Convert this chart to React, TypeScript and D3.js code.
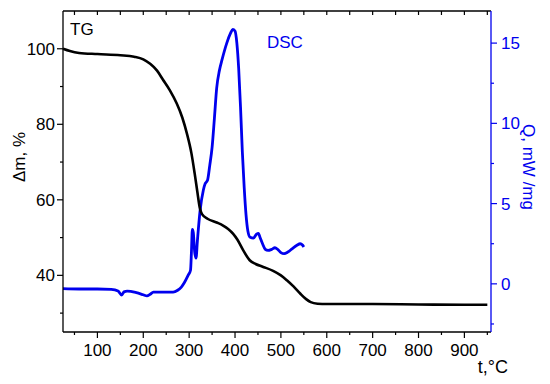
import React from "react";
import * as d3 from "d3";

const tgData: [number, number][] = [
  [25, 100], [40, 99.4], [60, 98.9], [100, 98.6], [150, 98.3], [180, 97.9], [200, 97.2],
  [215, 96.0], [230, 94.2], [243, 91.8], [258, 89], [273, 85.5], [285, 81.8], [295, 77.6],
  [305, 72.3], [312, 67], [318, 62], [323, 58], [328, 56.2], [340, 55], [360, 54], [374, 53.2],
  [385, 52.3], [396, 51], [405, 49.5], [418, 46.6], [432, 44], [445, 43], [460, 42.3],
  [483, 41.2], [500, 40], [513, 38.7], [528, 37], [542, 35.2], [555, 33.7], [565, 32.9],
  [580, 32.5], [600, 32.4], [700, 32.4], [800, 32.3], [900, 32.2], [950, 32.2],
];

const dscData: [number, number][] = [
  [25, -0.3], [60, -0.32], [100, -0.32], [130, -0.35], [145, -0.45], [153, -0.7], [158, -0.5],
  [165, -0.45], [185, -0.55], [200, -0.68], [208, -0.75], [215, -0.65], [222, -0.52],
  [240, -0.52], [265, -0.52], [275, -0.4], [283, -0.2], [290, 0.1], [298, 0.55], [303, 0.85],
  [305, 2.0], [307, 3.4], [309, 3.2], [312, 2.0], [315, 1.6], [318, 2.7], [324, 4.6],
  [331, 5.85], [335, 6.25], [340, 6.45], [345, 7.4], [350, 8.5], [355, 10.3], [360, 12.2],
  [366, 13.3], [372, 14.0], [382, 15.0], [390, 15.6], [395, 15.85], [400, 15.75], [404, 15.0],
  [408, 13.4], [412, 11], [416, 8.2], [420, 6.0], [424, 4.3], [428, 3.3], [433, 2.9],
  [440, 2.85], [447, 3.1], [451, 3.15], [455, 2.85], [460, 2.5], [466, 2.15], [472, 2.08],
  [480, 2.15], [487, 2.25], [493, 2.15], [500, 1.95], [507, 1.88], [515, 1.98], [525, 2.2],
  [535, 2.4], [542, 2.5], [547, 2.42], [550, 2.3],
];

const xTicks = [100, 200, 300, 400, 500, 600, 700, 800, 900];
const xMinor = [50, 150, 250, 350, 450, 550, 650, 750, 850, 950];
const yLeftTicks = [40, 60, 80, 100];
const yLeftMinor = [30, 50, 70, 90];
const yRightTicks = [0, 5, 10, 15];
const yRightMinor = [-2.5, 2.5, 7.5, 12.5];

const W = 550, H = 384;
const L = 63, R = 491, T = 11, B = 332;
const BLUE = "#0000ee";
const FONT = "Liberation Sans, Arial, sans-serif";

export default function App() {
  const x = d3.scaleLinear().domain([25, 958]).range([L, R]);
  const yL = d3.scaleLinear().domain([25, 110]).range([B, T]);
  const yR = d3.scaleLinear().domain([-3, 17]).range([B, T]);
  const lineTG = d3.line<[number, number]>().x(d => x(d[0])).y(d => yL(d[1])).curve(d3.curveMonotoneX);
  const lineDSC = d3.line<[number, number]>().x(d => x(d[0])).y(d => yR(d[1])).curve(d3.curveMonotoneX);
  const topTicks = [...xTicks, ...xMinor].filter(t => t > 25 && t < 958);

  return (
    <svg width={W} height={H} style={{ position: "absolute", left: 0, top: 0, background: "#fff" }} fontFamily={FONT}>
      <rect x={0} y={0} width={W} height={H} fill="#fff" />
      <path d={lineDSC(dscData) || ""} fill="none" stroke={BLUE} strokeWidth={2.8} strokeLinejoin="round" />
      <path d={lineTG(tgData) || ""} fill="none" stroke="#000" strokeWidth={2.6} strokeLinejoin="round" />

      {/* frame */}
      <line x1={L} x2={R} y1={T} y2={T} stroke="#000" strokeWidth={1.3} />
      <line x1={L} x2={R} y1={B} y2={B} stroke="#000" strokeWidth={1.3} />
      <line x1={L} x2={L} y1={T} y2={B} stroke="#000" strokeWidth={1.3} />
      <line x1={R} x2={R} y1={T} y2={B} stroke={BLUE} strokeWidth={1.3} />

      {/* top ticks inward */}
      {topTicks.map(t => (
        <line key={"tt" + t} x1={x(t)} x2={x(t)} y1={T} y2={T + 4} stroke="#000" strokeWidth={1.2} />
      ))}
      {/* bottom ticks */}
      {xTicks.map(t => (
        <g key={"bx" + t}>
          <line x1={x(t)} x2={x(t)} y1={B} y2={B + 6} stroke="#000" strokeWidth={1.2} />
          <text x={x(t)} y={B + 24} fontSize={17} textAnchor="middle">{t}</text>
        </g>
      ))}
      {xMinor.filter(t => t < 958).map(t => (
        <line key={"bm" + t} x1={x(t)} x2={x(t)} y1={B} y2={B + 3} stroke="#000" strokeWidth={1.2} />
      ))}

      {/* left axis */}
      {yLeftTicks.map(v => (
        <g key={"yl" + v}>
          <line x1={L - 6} x2={L} y1={yL(v)} y2={yL(v)} stroke="#000" strokeWidth={1.2} />
          <text x={L - 8} y={yL(v) + 6} fontSize={17} textAnchor="end">{v}</text>
        </g>
      ))}
      {yLeftMinor.map(v => (
        <line key={"ylm" + v} x1={L - 3} x2={L} y1={yL(v)} y2={yL(v)} stroke="#000" strokeWidth={1.2} />
      ))}

      {/* right axis */}
      {yRightTicks.map(v => (
        <g key={"yr" + v}>
          <line x1={R} x2={R + 6} y1={yR(v)} y2={yR(v)} stroke={BLUE} strokeWidth={1.2} />
          <text x={R + 10} y={yR(v) + 6} fontSize={17} fill={BLUE}>{v}</text>
        </g>
      ))}
      {yRightMinor.map(v => (
        <line key={"yrm" + v} x1={R} x2={R + 3} y1={yR(v)} y2={yR(v)} stroke={BLUE} strokeWidth={1.2} />
      ))}

      {/* axis titles */}
      <text transform={`translate(25,157) rotate(-90)`} fontSize={17} textAnchor="middle">Δm, %</text>
      <text transform={`translate(523,167) rotate(90)`} fontSize={17} textAnchor="middle" fill={BLUE}>Q, mW /mg</text>
      <text x={508} y={373} fontSize={18} textAnchor="end">t,°C</text>

      {/* series labels */}
      <text x={70} y={35} fontSize={17}>TG</text>
      <text x={267} y={48} fontSize={17} fill={BLUE}>DSC</text>
    </svg>
  );
}
